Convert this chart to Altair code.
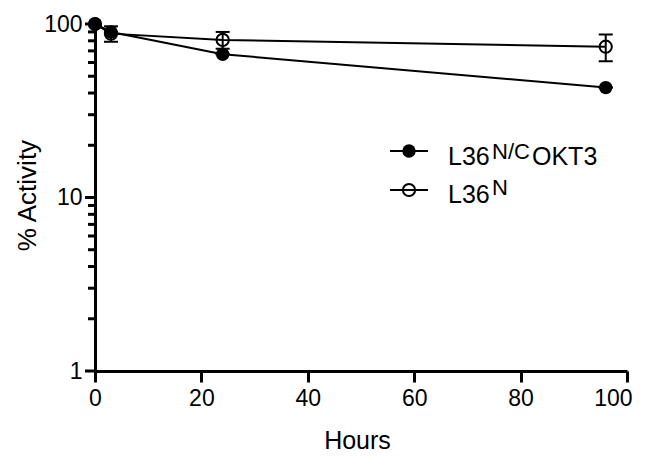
import altair as alt
import pandas as pd

# ---- data ----
hours = [0, 3, 24, 96]
filled_name = "L36N/COKT3"
filled_mean = [100, 90, 67, 43]
open_name = "L36N"
open_mean = [100, 88, 81, 74]
open_lo = [100, 79, 72, 61]
open_hi = [100, 97, 90, 87]

x_ticks = [0, 20, 40, 60, 80, 100]
y_major = [1, 10, 100]
y_minor = [2, 3, 4, 5, 6, 7, 8, 9, 20, 30, 40, 50, 60, 70, 80, 90]

legend_main = ["L36", "L36"]
legend_sup = ["N/C", "N"]
legend_tail = ["OKT3", ""]

rows = []
for h, m in zip(hours, filled_mean):
    rows.append({"series": filled_name, "hours": h, "value": m, "lo": m, "hi": m})
for h, m, lo, hi in zip(hours, open_mean, open_lo, open_hi):
    rows.append({"series": open_name, "hours": h, "value": m, "lo": lo, "hi": hi})
df = pd.DataFrame(rows)

FONT = "Liberation Sans"
W, H = 532, 347
XTICK, YMAJ, YMIN = 11, 10, 7

xscale = alt.Scale(domain=[0, 100], nice=False)
yscale = alt.Scale(type="log", domain=[1, 100], nice=False)

last_x = x_ticks[-1]
x_axis = alt.Axis(values=x_ticks, ticks=True, tickSize=XTICK, tickColor="black", tickWidth=3,
                  labelPadding=5, labelFlush=False,
                  labelAlign={"condition": {"test": f"datum.value == {last_x}", "value": "right"},
                              "value": "center"},
                  labelOffset={"condition": {"test": f"datum.value == {last_x}", "value": 5},
                               "value": 0},
                  titleX=262, titleY=77, titleBaseline="alphabetic", titleFontSize=25)
y_axis = alt.Axis(values=y_major, ticks=False, labelFlush=False,
                  labelOverlap=False, labelPadding=YMAJ + 3, titleFontSize=26,
                  titleAngle=-90, titleX=-68, titleY=171, titleAlign="center",
                  titleBaseline="middle")

xa = alt.X("hours:Q", scale=xscale, title="Hours", axis=x_axis)

def ya(field):
    return alt.Y(f"{field}:Q", scale=yscale, title="% Activity", axis=y_axis)

base = alt.Chart(df)

lines = base.mark_line(color="black", strokeWidth=2).encode(
    x=xa, y=ya("value"), detail="series:N")

# y-axis major and minor ticks drawn through the log scale
ytm = alt.Chart(pd.DataFrame({"t": y_major})).mark_rule(color="black", strokeWidth=3).encode(
    y=alt.Y("t:Q", scale=yscale), x=alt.value(-YMAJ), x2=alt.value(0))
ytn = alt.Chart(pd.DataFrame({"t": y_minor})).mark_rule(color="black", strokeWidth=3).encode(
    y=alt.Y("t:Q", scale=yscale), x=alt.value(-YMIN), x2=alt.value(0))

err = base.mark_rule(color="black", strokeWidth=2).encode(
    x=xa, y=ya("lo"), y2="hi:Q")
cap_hi = base.mark_tick(orient="horizontal", color="black", size=14, thickness=2, opacity=1).encode(
    x=xa, y=ya("hi"))
cap_lo = base.mark_tick(orient="horizontal", color="black", size=14, thickness=2, opacity=1).encode(
    x=xa, y=ya("lo"))

pts_filled = base.transform_filter(alt.datum.series == filled_name).mark_point(
    shape="circle", filled=True, color="black", size=180, opacity=1).encode(
    x=xa, y=ya("value"))
pts_open = base.transform_filter(alt.datum.series == open_name).mark_point(
    shape="circle", filled=False, color="black", strokeWidth=2, size=150, opacity=1).encode(
    x=xa, y=ya("value"))

one = pd.DataFrame({"k": [0]})

def leg_row(yrow, filled):
    line = alt.Chart(one).mark_rule(color="black", strokeWidth=2).encode(
        x=alt.value(295), x2=alt.value(333), y=alt.value(yrow))
    if filled:
        sym = alt.Chart(one).mark_point(shape="circle", filled=True, color="black", size=180, opacity=1).encode(
            x=alt.value(314), y=alt.value(yrow))
    else:
        sym = alt.Chart(one).mark_point(shape="circle", filled=False, color="black", strokeWidth=2,
                                        size=150, opacity=1).encode(
            x=alt.value(314), y=alt.value(yrow))
    return [line, sym]

def txt(s, x, y, size):
    return alt.Chart(pd.DataFrame({"t": [s]})).mark_text(
        font=FONT, fontSize=size, align="left", baseline="alphabetic", color="black").encode(
        x=alt.value(x), y=alt.value(y), text="t:N")

legend_layers = leg_row(127, True) + leg_row(166, False) + [
    txt(legend_main[0], 353, 141, 25),
    txt(legend_sup[0], 397, 135, 22),
    txt(legend_tail[0], 437, 141, 25),
    txt(legend_main[1], 353, 179, 25),
    txt(legend_sup[1], 397, 171, 22),
]

chart = alt.layer(lines, ytm, ytn, err, cap_hi, cap_lo, pts_filled, pts_open,
                  *legend_layers).properties(
    width=W, height=H,
    background="white",
    autosize=alt.AutoSizeParams(type="none"),
    padding={"left": 87, "top": 16, "right": 10, "bottom": 86},
).configure_view(stroke=None).configure_axis(
    grid=False, domainColor="black", domainWidth=3,
    labelFont=FONT, labelFontSize=23, labelColor="black",
    titleFont=FONT, titleFontWeight="normal", titleColor="black",
)

chart.save("out.html", embed_options={"renderer": "svg", "actions": False})
